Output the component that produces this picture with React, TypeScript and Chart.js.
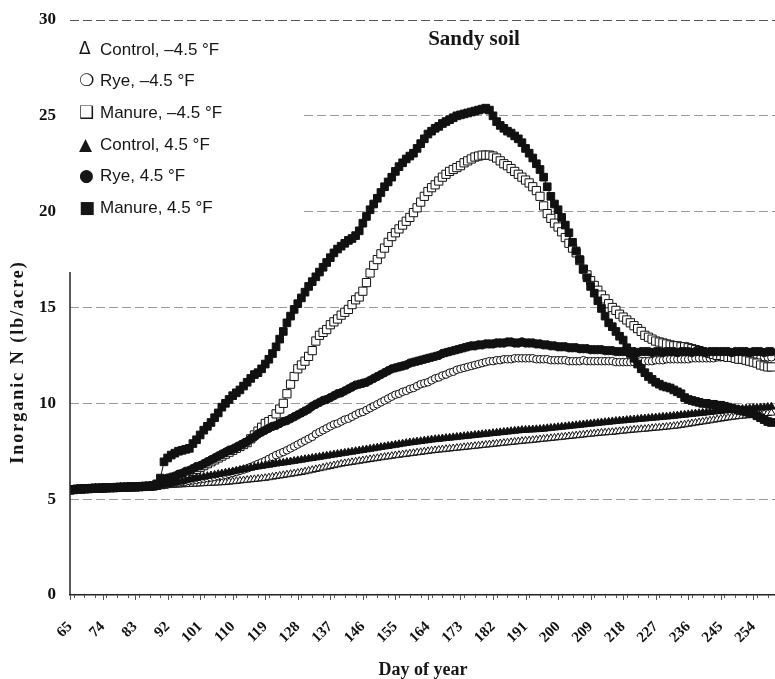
import React, { useEffect, useRef } from "react";
import { Chart, registerables } from "chart.js";

Chart.register(...registerables);

const firstDay = 65;
const lastDay = 259;
const xTickLabels = [65, 74, 83, 92, 101, 110, 119, 128, 137, 146, 155, 164, 173, 182, 191, 200, 209, 218, 227, 236, 245, 254];
const yTickStep = 5;
const chartTitle = "Sandy soil";
const xTitle = "Day of year";
const yTitle = "Inorganic N (lb/acre)";
const seriesNames = ["Control, \u20134.5 \u00b0F", "Rye, \u20134.5 \u00b0F", "Manure, \u20134.5 \u00b0F", "Control, 4.5 \u00b0F", "Rye, 4.5 \u00b0F", "Manure, 4.5 \u00b0F"];
const legendSymbols = ["\u0394", "\u274d", "\u2751", "\u25b2", "\u25cf", "\u25a0"];

// days 65-88, all treatments share these values
const sharedEarly = [
  5.48, 5.5, 5.52, 5.53, 5.54, 5.55, 5.56, 5.57, 5.57, 5.58,
  5.59, 5.6, 5.6, 5.61, 5.62, 5.62, 5.63, 5.64, 5.64, 5.65,
  5.66, 5.67, 5.68, 5.69,
];

// days 89-259
const controlMinus = [
  5.69, 5.7, 5.71, 5.72, 5.73, 5.74,
  5.75, 5.76, 5.77, 5.78, 5.79, 5.8, 5.81, 5.82, 5.83, 5.84,
  5.85, 5.86, 5.87, 5.88, 5.9, 5.92, 5.94, 5.96, 5.98, 6.0,
  6.02, 6.04, 6.06, 6.08, 6.1, 6.13, 6.16, 6.19, 6.22, 6.25,
  6.28, 6.31, 6.34, 6.37, 6.4, 6.44, 6.48, 6.52, 6.56, 6.6,
  6.64, 6.68, 6.72, 6.76, 6.8, 6.84, 6.87, 6.9, 6.93, 6.96,
  6.99, 7.02, 7.05, 7.08, 7.11, 7.14, 7.17, 7.2, 7.22, 7.25,
  7.28, 7.3, 7.33, 7.35, 7.38, 7.4, 7.43, 7.45, 7.48, 7.5,
  7.53, 7.55, 7.57, 7.59, 7.61, 7.63, 7.65, 7.67, 7.69, 7.71,
  7.73, 7.75, 7.77, 7.79, 7.81, 7.83, 7.85, 7.87, 7.89, 7.91,
  7.93, 7.95, 7.97, 7.99, 8.01, 8.03, 8.05, 8.06, 8.08, 8.1,
  8.12, 8.14, 8.16, 8.18, 8.2, 8.22, 8.24, 8.26, 8.28, 8.3,
  8.32, 8.34, 8.36, 8.38, 8.4, 8.42, 8.44, 8.46, 8.47, 8.49,
  8.5, 8.52, 8.54, 8.56, 8.58, 8.6, 8.62, 8.63, 8.65, 8.66,
  8.68, 8.7, 8.72, 8.73, 8.75, 8.77, 8.79, 8.81, 8.83, 8.86,
  8.89, 8.92, 8.95, 8.98, 9.01, 9.04, 9.07, 9.1, 9.13, 9.16,
  9.19, 9.22, 9.25, 9.28, 9.3, 9.32, 9.34, 9.36, 9.38, 9.4,
  9.42, 9.44, 9.46, 9.48, 9.5,
];

const ryeMinus = [
  5.7, 5.72, 5.74, 5.77, 5.8, 5.83,
  5.86, 5.89, 5.92, 5.95, 5.98, 6.01, 6.04, 6.07, 6.1, 6.13,
  6.16, 6.2, 6.23, 6.27, 6.32, 6.37, 6.42, 6.48, 6.54, 6.6,
  6.68, 6.76, 6.84, 6.92, 7.0, 7.1, 7.2, 7.3, 7.38, 7.46,
  7.55, 7.65, 7.75, 7.85, 7.95, 8.05, 8.15, 8.25, 8.4, 8.5,
  8.6, 8.7, 8.8, 8.9, 8.95, 9.05, 9.15, 9.2, 9.3, 9.4,
  9.5, 9.55, 9.65, 9.75, 9.85, 9.95, 10.05, 10.15, 10.25, 10.35,
  10.45, 10.5, 10.6, 10.65, 10.75, 10.8, 10.9, 11.0, 11.05, 11.1,
  11.2, 11.3, 11.35, 11.45, 11.5, 11.6, 11.65, 11.75, 11.8, 11.85,
  11.9, 11.95, 12.0, 12.05, 12.1, 12.15, 12.2, 12.2, 12.25, 12.25,
  12.3, 12.3, 12.3, 12.35, 12.35, 12.35, 12.35, 12.35, 12.35, 12.3,
  12.3, 12.3, 12.3, 12.25, 12.25, 12.25, 12.25, 12.25, 12.2, 12.2,
  12.2, 12.2, 12.25, 12.2, 12.2, 12.2, 12.2, 12.2, 12.2, 12.2,
  12.2, 12.15, 12.15, 12.15, 12.15, 12.15, 12.15, 12.15, 12.2, 12.2,
  12.2, 12.2, 12.25, 12.25, 12.25, 12.3, 12.3, 12.3, 12.3, 12.3,
  12.3, 12.3, 12.35, 12.35, 12.35, 12.35, 12.35, 12.35, 12.35, 12.4,
  12.4, 12.4, 12.4, 12.4, 12.4, 12.4, 12.4, 12.4, 12.4, 12.4,
  12.4, 12.4, 12.4, 12.4, 12.4,
];

const manureMinus = [
  5.72, 5.76, 5.8, 5.85, 5.9, 5.95,
  6.05, 6.15, 6.25, 6.35, 6.45, 6.55, 6.65, 6.75, 6.85, 6.95,
  7.05, 7.15, 7.25, 7.35, 7.45, 7.55, 7.65, 7.75, 7.85, 7.95,
  8.15, 8.35, 8.55, 8.75, 8.95, 9.05, 9.15, 9.45, 9.7, 10.0,
  10.5, 11.0, 11.4, 11.8, 12.0, 12.2, 12.45, 12.75, 13.25, 13.55,
  13.7, 13.85, 14.1, 14.25, 14.4, 14.6, 14.75, 14.9, 15.15, 15.4,
  15.55, 15.85, 16.3, 16.8, 17.2, 17.5, 17.8, 18.1, 18.4, 18.7,
  18.9, 19.1, 19.3, 19.5, 19.7, 19.95, 20.2, 20.5, 20.8, 21.05,
  21.25, 21.4, 21.6, 21.8, 21.95, 22.1, 22.2, 22.3, 22.4, 22.55,
  22.65, 22.75, 22.85, 22.9, 22.95, 22.95, 22.95, 22.9, 22.8, 22.65,
  22.5, 22.4, 22.25, 22.1, 21.95, 21.8, 21.65, 21.5, 21.3, 21.1,
  20.8, 20.3, 19.9, 19.65, 19.4, 19.2, 18.95, 18.65, 18.35, 18.1,
  17.85, 17.45, 17.0, 16.7, 16.4, 16.15, 15.9, 15.65, 15.45, 15.2,
  15.0, 14.85, 14.65, 14.5, 14.35, 14.2, 14.05, 13.9, 13.75, 13.55,
  13.45, 13.35, 13.25, 13.2, 13.15, 13.1, 13.05, 13.0, 13.0, 12.95,
  12.95, 12.9, 12.85, 12.8, 12.75, 12.7, 12.65, 12.6, 12.55, 12.5,
  12.5, 12.45, 12.4, 12.4, 12.35, 12.3, 12.3, 12.25, 12.2, 12.15,
  12.1, 12.0, 11.95, 11.9, 11.9,
];

const controlPlus = [
  5.7, 5.72, 5.75, 5.78, 5.82, 5.86,
  5.9, 5.94, 5.98, 6.02, 6.06, 6.1, 6.13, 6.16, 6.2, 6.23,
  6.26, 6.3, 6.33, 6.37, 6.4, 6.44, 6.48, 6.52, 6.56, 6.6,
  6.63, 6.67, 6.7, 6.73, 6.76, 6.79, 6.82, 6.85, 6.88, 6.9,
  6.93, 6.96, 6.99, 7.02, 7.05, 7.08, 7.11, 7.14, 7.17, 7.2,
  7.23, 7.26, 7.29, 7.32, 7.35, 7.38, 7.41, 7.44, 7.47, 7.5,
  7.53, 7.56, 7.59, 7.62, 7.65, 7.68, 7.71, 7.74, 7.77, 7.8,
  7.83, 7.86, 7.89, 7.92, 7.95, 7.97, 8.0, 8.02, 8.05, 8.07,
  8.1, 8.12, 8.14, 8.16, 8.18, 8.2, 8.22, 8.24, 8.26, 8.28,
  8.3, 8.32, 8.34, 8.36, 8.38, 8.4, 8.42, 8.44, 8.46, 8.48,
  8.5, 8.52, 8.54, 8.56, 8.58, 8.6, 8.61, 8.62, 8.63, 8.64,
  8.65, 8.67, 8.69, 8.71, 8.73, 8.75, 8.77, 8.79, 8.81, 8.83,
  8.85, 8.87, 8.89, 8.91, 8.93, 8.95, 8.97, 8.99, 9.01, 9.03,
  9.05, 9.07, 9.09, 9.1, 9.12, 9.14, 9.15, 9.17, 9.19, 9.2,
  9.22, 9.24, 9.25, 9.27, 9.29, 9.3, 9.32, 9.34, 9.36, 9.38,
  9.4, 9.42, 9.44, 9.46, 9.48, 9.5, 9.52, 9.54, 9.56, 9.58,
  9.6, 9.62, 9.64, 9.65, 9.67, 9.68, 9.7, 9.72, 9.73, 9.75,
  9.76, 9.77, 9.78, 9.8, 9.82,
];

const ryePlus = [
  5.75, 5.85, 5.95, 6.1, 6.15, 6.2,
  6.3, 6.35, 6.45, 6.5, 6.6, 6.7, 6.75, 6.85, 6.95, 7.05,
  7.15, 7.25, 7.35, 7.45, 7.55, 7.6, 7.7, 7.8, 7.9, 8.0,
  8.15, 8.25, 8.4, 8.5, 8.6, 8.7, 8.8, 8.85, 8.95, 9.05,
  9.1, 9.2, 9.3, 9.4, 9.5, 9.6, 9.7, 9.85, 9.95, 10.05,
  10.15, 10.2, 10.3, 10.4, 10.5, 10.55, 10.65, 10.75, 10.85, 10.95,
  11.0, 11.05, 11.1, 11.2, 11.3, 11.4, 11.5, 11.6, 11.7, 11.8,
  11.85, 11.9, 11.95, 12.0, 12.1, 12.15, 12.2, 12.25, 12.3, 12.35,
  12.4, 12.45, 12.5, 12.6, 12.65, 12.7, 12.75, 12.8, 12.85, 12.9,
  12.95, 13.0, 13.0, 13.05, 13.05, 13.1, 13.1, 13.1, 13.15, 13.15,
  13.15, 13.2, 13.2, 13.15, 13.15, 13.2, 13.15, 13.15, 13.15, 13.1,
  13.1, 13.05, 13.05, 13.0, 13.0, 12.95, 12.95, 12.95, 12.9, 12.9,
  12.9, 12.85, 12.85, 12.85, 12.8, 12.8, 12.8, 12.8, 12.75, 12.75,
  12.75, 12.7, 12.7, 12.7, 12.7, 12.7, 12.7, 12.65, 12.7, 12.7,
  12.7, 12.65, 12.7, 12.7, 12.65, 12.7, 12.7, 12.7, 12.65, 12.7,
  12.7, 12.7, 12.65, 12.7, 12.7, 12.7, 12.65, 12.7, 12.7, 12.7,
  12.7, 12.7, 12.7, 12.65, 12.7, 12.7, 12.7, 12.7, 12.65, 12.7,
  12.7, 12.7, 12.65, 12.7, 12.7,
];

const manurePlus = [
  5.8, 6.1, 6.95, 7.15, 7.3, 7.4,
  7.5, 7.55, 7.6, 7.65, 7.9, 8.1, 8.35, 8.6, 8.8, 9.0,
  9.25, 9.5, 9.8, 10.0, 10.2, 10.4, 10.55, 10.7, 10.9, 11.1,
  11.3, 11.5, 11.6, 11.8, 12.05, 12.3, 12.6, 12.95, 13.35, 13.75,
  14.2, 14.55, 14.9, 15.2, 15.5, 15.8, 16.1, 16.35, 16.6, 16.85,
  17.1, 17.35, 17.6, 17.85, 18.05, 18.2, 18.35, 18.5, 18.6, 18.75,
  19.0, 19.4, 19.75, 20.1, 20.4, 20.7, 21.0, 21.3, 21.55, 21.8,
  22.1, 22.35, 22.55, 22.75, 22.9, 23.05, 23.3, 23.55, 23.8, 24.05,
  24.2, 24.35, 24.45, 24.6, 24.7, 24.8, 24.9, 25.0, 25.05, 25.1,
  25.15, 25.2, 25.25, 25.3, 25.35, 25.4, 25.3, 25.0, 24.7, 24.5,
  24.35, 24.2, 24.1, 23.95, 23.8, 23.6, 23.3, 23.05, 22.8, 22.5,
  22.2, 21.8, 21.3, 20.8, 20.4, 20.1, 19.7, 19.3, 18.9, 18.4,
  17.95, 17.5, 17.0, 16.55, 16.1, 15.75, 15.35, 14.95, 14.55, 14.2,
  14.0, 13.75, 13.5, 13.3, 12.9, 12.6, 12.35, 12.05, 11.8, 11.6,
  11.4, 11.25, 11.1, 11.0, 10.9, 10.85, 10.8, 10.7, 10.6, 10.5,
  10.3, 10.2, 10.15, 10.1, 10.05, 10.0, 10.0, 9.95, 9.95, 9.9,
  9.9, 9.85, 9.8, 9.75, 9.7, 9.65, 9.6, 9.55, 9.5, 9.45,
  9.35, 9.25, 9.15, 9.05, 9.0,
];

const seriesValues = [
  [...sharedEarly, ...controlMinus],
  [...sharedEarly, ...ryeMinus],
  [...sharedEarly, ...manureMinus],
  [...sharedEarly, ...controlPlus],
  [...sharedEarly, ...ryePlus],
  [...sharedEarly, ...manurePlus],
];

const pointStyles = ["triangle", "circle", "rect", "triangle", "circle", "rect"];
const filled = [false, false, false, true, true, true];
const radii = [4.4, 3.8, 5.8, 4.6, 4.2, 5.4];
const axisLineTop = 16.85;

const serif = '"Liberation Serif", "Times New Roman", serif';

export default function App() {
  const canvasRef = useRef<HTMLCanvasElement | null>(null);

  useEffect(() => {
    const canvas = canvasRef.current;
    if (!canvas) return;
    const days: number[] = [];
    for (let d = firstDay; d <= lastDay; d++) days.push(d);

    const datasets = seriesValues.map((vals, i) => ({
      label: seriesNames[i],
      data: vals.map((v, j) => ({ x: days[j], y: v })),
      showLine: true,
      borderColor: "#111",
      borderWidth: 1,
      pointStyle: pointStyles[i] as any,
      pointRadius: radii[i],
      pointBorderWidth: 1,
      pointBorderColor: "#111",
      pointBackgroundColor: filled[i] ? "#111" : "#fff",
      order: seriesValues.length - i,
    }));

    const overlay = {
      id: "overlay",
      afterDatasetsDraw(chart: any) {
        const { ctx, chartArea, scales } = chart;
        ctx.save();
        ctx.fillStyle = "#fff";
        ctx.fillRect(chartArea.left, chartArea.top + 5, 232, 205);
        const yTop = scales.y.getPixelForValue(axisLineTop);
        ctx.strokeStyle = "#222";
        ctx.lineWidth = 1.5;
        ctx.beginPath();
        ctx.moveTo(chartArea.left, yTop);
        ctx.lineTo(chartArea.left, chartArea.bottom);
        ctx.stroke();

        // small tick marks below the x axis
        ctx.strokeStyle = "#555";
        ctx.lineWidth = 1;
        ctx.beginPath();
        for (let d = firstDay; d <= lastDay; d++) {
          const px = Math.round(scales.x.getPixelForValue(d)) + 0.5;
          const len = xTickLabels.includes(d) ? 5 : d % 3 === 0 ? 3 : 0;
          if (len) {
            ctx.moveTo(px, chartArea.bottom);
            ctx.lineTo(px, chartArea.bottom + len);
          }
        }
        ctx.stroke();

        ctx.fillStyle = "#161616";
        ctx.textBaseline = "middle";
        ctx.textAlign = "left";
        seriesNames.forEach((name, i) => {
          const y = chartArea.top + 30 + i * 31.7;
          ctx.font = '17px "DejaVu Sans", "Liberation Sans", sans-serif';
          ctx.fillText(legendSymbols[i], chartArea.left + 9, y);
          ctx.font = '17px "Liberation Sans", "DejaVu Sans", sans-serif';
          ctx.fillText(name, chartArea.left + 30, y);
        });

        ctx.font = "bold 21px " + serif;
        ctx.textAlign = "center";
        ctx.fillText(chartTitle, 474, 40);

        ctx.font = "bold 18px " + serif;
        ctx.fillText(xTitle, 423, 670);

        ctx.save();
        ctx.translate(18, 362);
        ctx.rotate(-Math.PI / 2);
        ctx.font = "bold 18px " + serif;
        try {
          (ctx as any).letterSpacing = "2px";
        } catch (e) {}
        ctx.fillText(yTitle, 0, 0);
        ctx.restore();
        ctx.restore();
      },
    };

    const chart = new Chart(canvas, {
      type: "scatter",
      data: { datasets: datasets as any },
      plugins: [overlay],
      options: {
        animation: false,
        responsive: false,
        maintainAspectRatio: false,
        layout: { autoPadding: false, padding: { top: 20, right: 0, left: 0, bottom: 0 } },
        plugins: { legend: { display: false }, tooltip: { enabled: false }, title: { display: false } },
        scales: {
          x: {
            type: "linear",
            min: firstDay,
            max: lastDay + 1,
            afterBuildTicks: (scale: any) => {
              scale.ticks = xTickLabels.map((v) => ({ value: v }));
            },
            afterFit: (scale: any) => {
              scale.height = 84;
              scale.paddingLeft = 0;
              scale.paddingRight = 0;
            },
            ticks: {
              autoSkip: false,
              maxRotation: 45,
              minRotation: 45,
              color: "#111",
              padding: 3,
              font: { family: serif, size: 15, weight: "bold" },
            },
            grid: { drawOnChartArea: false, drawTicks: true, tickLength: 20, tickColor: "rgba(0,0,0,0)", color: "rgba(0,0,0,0)" },
            border: { display: true, color: "#222", width: 1.5 },
          },
          y: {
            min: 0,
            max: 30,
            afterFit: (scale: any) => {
              scale.width = 70;
              scale.paddingTop = 0;
              scale.paddingBottom = 0;
            },
            ticks: {
              stepSize: yTickStep,
              color: "#111",
              padding: 14,
              font: { family: serif, size: 17, weight: "bold" },
            },
            grid: {
              drawTicks: false,
              color: (c: any) => (c.tick && c.tick.value === 30 ? "#555" : c.tick && c.tick.value === 0 ? "rgba(0,0,0,0)" : "#9a9a9a"),
              lineWidth: 1,
            },
            border: { display: false, dash: [9, 4] },
          },
        },
      },
    });
    return () => chart.destroy();
  }, []);

  return (
    <div style={{ position: "fixed", left: 0, top: 0, width: 775, height: 679, background: "#fff" }}>
      <canvas ref={canvasRef} width={775} height={679} style={{ width: 775, height: 679 }} />
    </div>
  );
}
